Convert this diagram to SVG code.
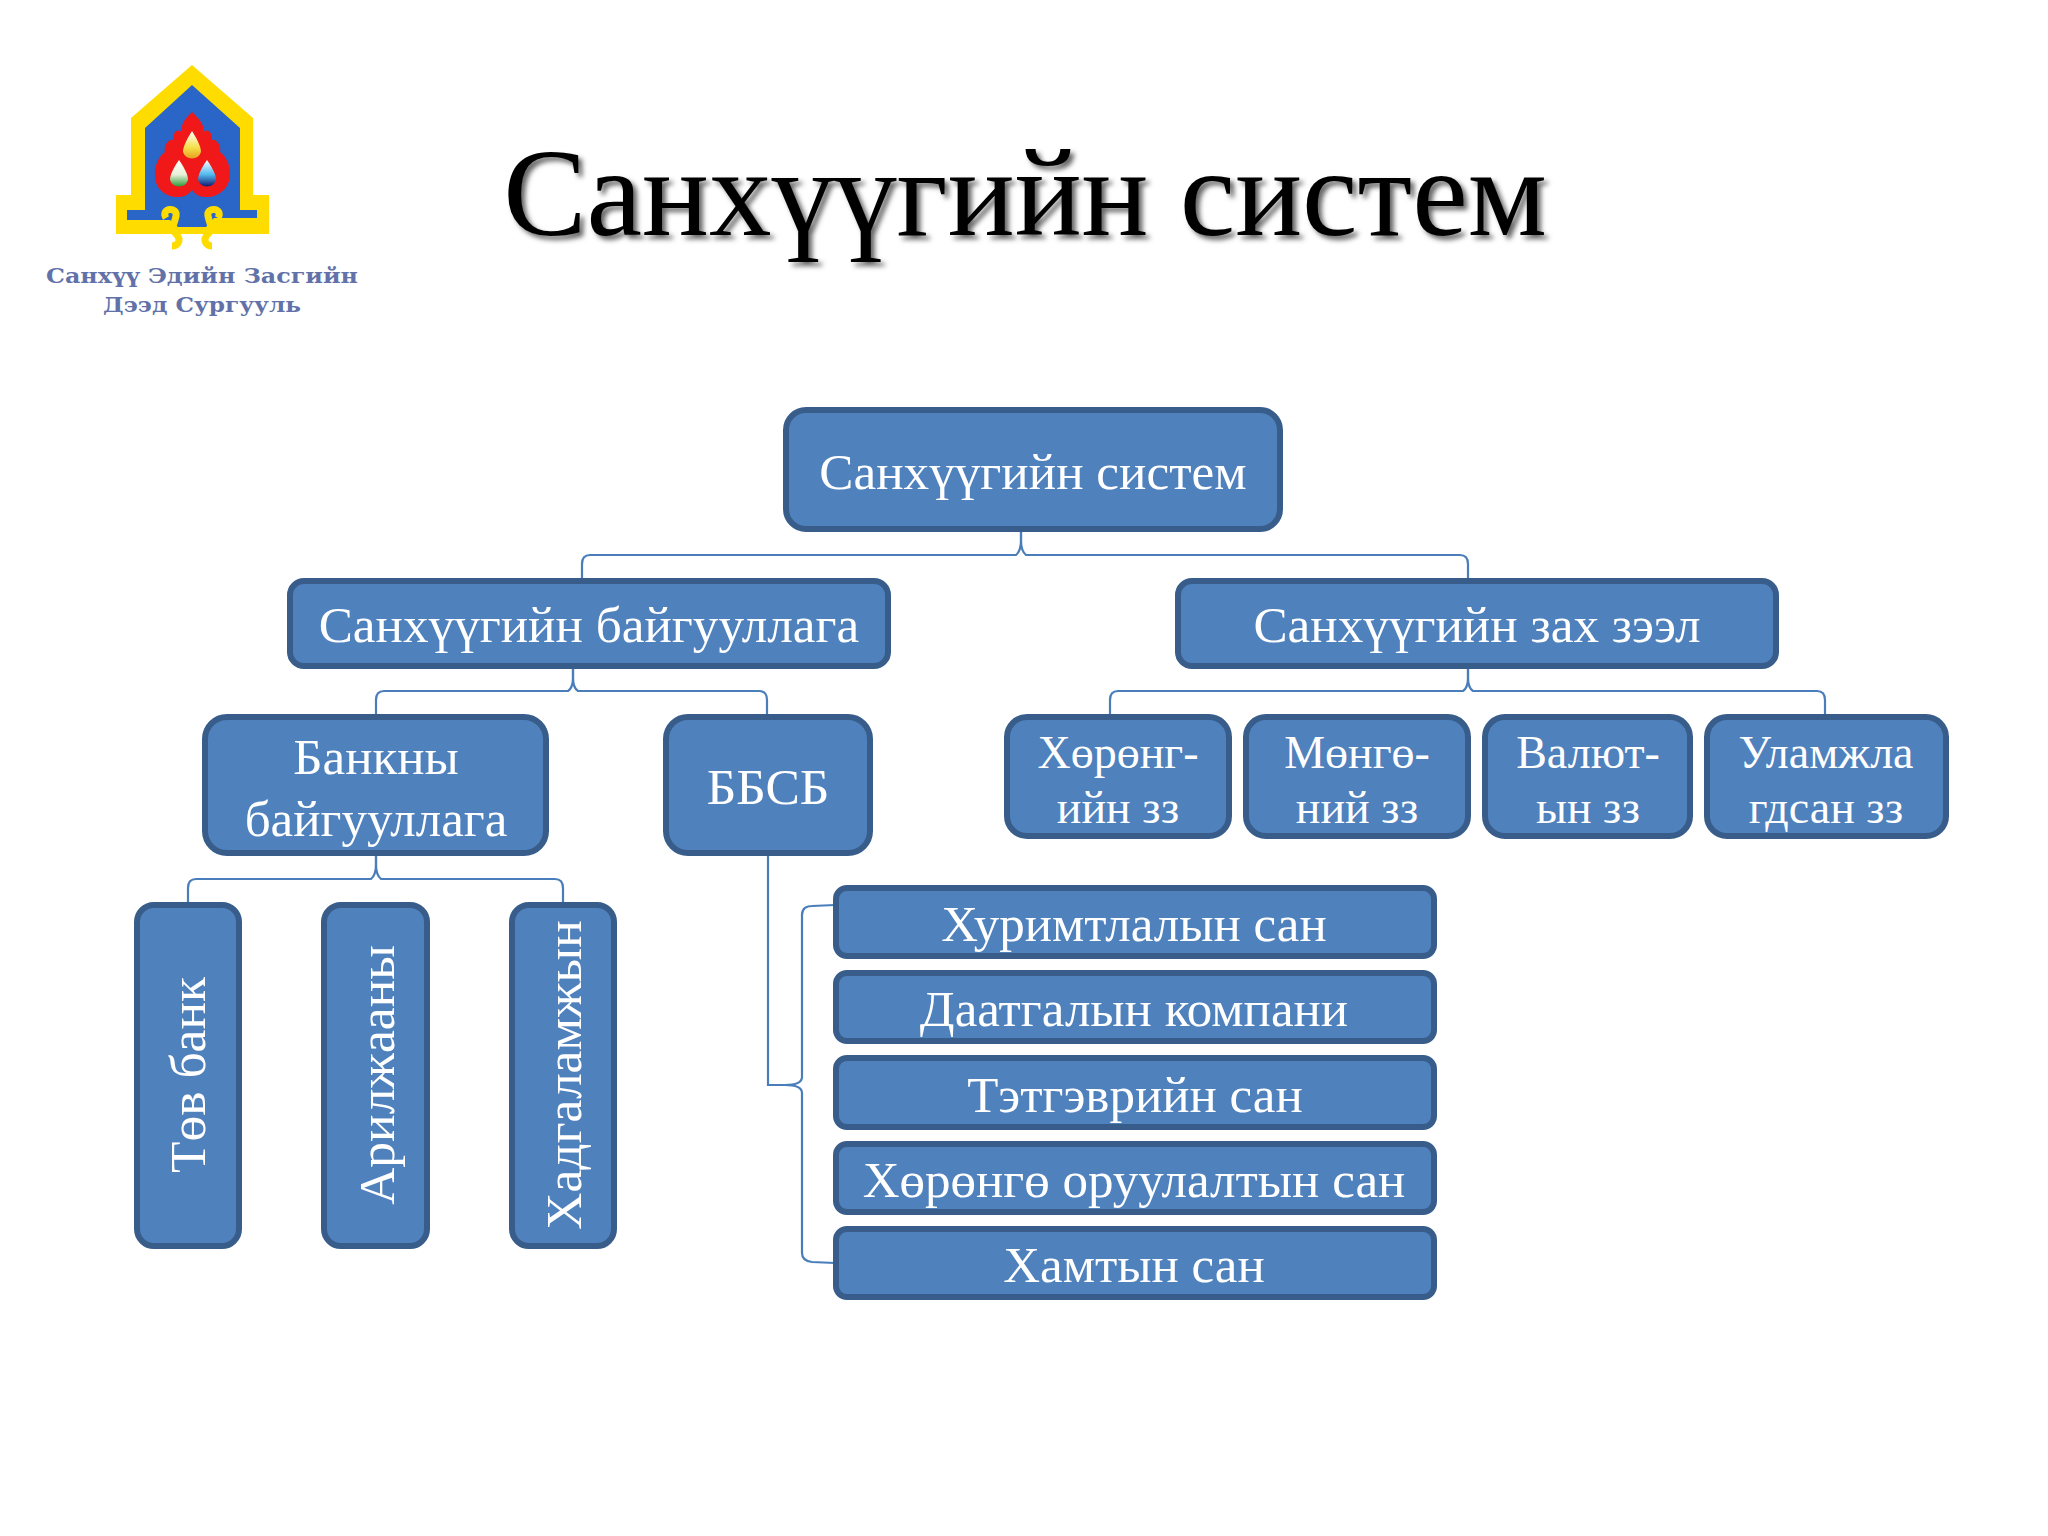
<svg xmlns="http://www.w3.org/2000/svg" width="2048" height="1536" viewBox="0 0 2048 1536">
<style>
.box{fill:#4f81bd;stroke:#385d8a;stroke-width:6}
.t{font-family:"Liberation Serif","Times New Roman",serif;fill:#fff;text-anchor:middle}
.c{fill:none;stroke:#4a7ebb;stroke-width:2.2}
.logo{font-family:"DejaVu Serif","Liberation Serif",serif;font-weight:bold;fill:#6272a8;font-size:21px}
</style>
<defs>
<linearGradient id="d1" x1="0" y1="0" x2="0" y2="1"><stop offset="0" stop-color="#fff"/><stop offset=".6" stop-color="#f5e04a"/><stop offset="1" stop-color="#e8a020"/></linearGradient>
<linearGradient id="d2" x1="0" y1="0" x2="0" y2="1"><stop offset="0" stop-color="#fff"/><stop offset=".55" stop-color="#e8f0d8"/><stop offset="1" stop-color="#2f9a3a"/></linearGradient>
<linearGradient id="d3" x1="0" y1="0" x2="0" y2="1"><stop offset="0" stop-color="#fff"/><stop offset=".55" stop-color="#52b8ee"/><stop offset="1" stop-color="#12186e"/></linearGradient>
<filter id="sh" x="-5%" y="-5%" width="110%" height="120%"><feGaussianBlur stdDeviation="2.500"/></filter>
</defs>
<rect width="2048" height="1536" fill="#fff"/>
<g id="logo">
<path d="M192 65L131 118V195H116V234H269V195H253V118Z" fill="#fedc00"/>
<path d="M192 85L145 128V210H127V220H170L178 227H206L214 218H257V210H240V128Z" fill="#2a66c8"/>
<path d="M192 112C198 118 205 124 203 132C208 128 212 132 212 140C216 138 222 146 220 152C226 156 231 166 230 176C229 190 216 198 205 197C199 197 195 194 192 190C189 194 185 197 179 197C168 198 155 190 155 176C154 166 159 156 165 152C163 146 169 138 173 140C173 132 177 128 182 132C180 124 186 118 192 112Z" fill="#f01818"/>
<path d="M192 131C185 142 183 148 183 152A9.500 9.500 0 0 0 201 152C201 148 199 142 192 131Z" fill="url(#d1)"/>
<path d="M179 160C172 170 170 176 170 180A9.500 9.500 0 0 0 188 180C188 176 186 170 179 160Z" fill="url(#d2)"/>
<path d="M207 160C200 170 198 176 198 180A9.500 9.500 0 0 0 216 180C216 176 214 170 207 160Z" fill="url(#d3)"/>
<path d="M166 218C160 208 178 206 176 216C174 226 170 228 176 234C182 240 178 246 172 246" fill="none" stroke="#fedc00" stroke-width="7"/>
<path d="M218 218C224 208 206 206 208 216C210 226 214 228 208 234C202 240 206 246 212 246" fill="none" stroke="#fedc00" stroke-width="7"/>
<text class="logo" x="46" y="283" textLength="312" lengthAdjust="spacingAndGlyphs">Санхүү Эдийн Засгийн</text>
<text class="logo" x="103" y="312" textLength="198" lengthAdjust="spacingAndGlyphs">Дээд Сургууль</text>
</g>
<g id="title">
<text x="1029" y="239" font-family="Liberation Serif,serif" font-size="125" text-anchor="middle" fill="#666" filter="url(#sh)">Санхүүгийн систем</text>
<text x="1025" y="235" font-family="Liberation Serif,serif" font-size="125" text-anchor="middle" fill="#000">Санхүүгийн систем</text>
</g>
<g id="connectors" class="connectors">
<path class="c" d="M1021 530V540Q1021 551 1016 555H590Q582 555 582 564V580"/>
<path class="c" d="M1021 530V540Q1021 551 1026 555H1460Q1468 555 1468 564V580"/>
<path class="c" d="M573 667V677Q573 688 568 691H384Q376 691 376 700V716"/>
<path class="c" d="M573 667V677Q573 688 578 691H759Q767 691 767 700V716"/>
<path class="c" d="M1468 667V677Q1468 688 1463 691H1118Q1110 691 1110 700V716"/>
<path class="c" d="M1468 667V677Q1468 688 1473 691H1817Q1825 691 1825 700V716"/>
<path class="c" d="M376 854V864Q376 875 371 879H196Q188 879 188 888V904"/>
<path class="c" d="M376 854V864Q376 875 381 879H555Q563 879 563 888V904"/>
<path class="c" d="M768 854V1085H785Q802 1085 802 1077V915Q802 906 812 906L835 905"/>
<path class="c" d="M785 1085Q802 1085 802 1093V1253Q802 1261 812 1262L835 1263"/>
</g>
<g id="n-root"><rect class="box" x="786" y="410" width="494" height="119" rx="20"/><text class="t" x="1033" y="489" font-size="51.200">Санхүүгийн систем</text></g>
<g id="n-org"><rect class="box" x="290" y="581" width="598" height="85" rx="14"/><text class="t" x="589" y="642" font-size="51.200">Санхүүгийн байгууллага</text></g>
<g id="n-market"><rect class="box" x="1178" y="581" width="598" height="85" rx="14"/><text class="t" x="1477" y="642" font-size="51.200">Санхүүгийн зах зээл</text></g>
<g id="n-bank"><rect class="box" x="205" y="717" width="341" height="136" rx="22"/><text class="t" x="376" y="774" font-size="51">Банкны</text><text class="t" x="376" y="836" font-size="51">байгууллага</text></g>
<g id="n-bbsb"><rect class="box" x="666" y="717" width="204" height="136" rx="22"/><text class="t" x="768" y="804" font-size="51.500">ББСБ</text></g>
<g id="n-asset"><rect class="box" x="1007" y="717" width="222" height="119" rx="20"/><text class="t" x="1118" y="768" font-size="46">Хөрөнг-</text><text class="t" x="1118" y="823" font-size="46">ийн зз</text></g>
<g id="n-money"><rect class="box" x="1246" y="717" width="222" height="119" rx="20"/><text class="t" x="1357" y="768" font-size="46">Мөнгө-</text><text class="t" x="1357" y="823" font-size="46">ний зз</text></g>
<g id="n-fx"><rect class="box" x="1485" y="717" width="205" height="119" rx="20"/><text class="t" x="1588" y="768" font-size="46">Валют-</text><text class="t" x="1588" y="823" font-size="46">ын зз</text></g>
<g id="n-deriv"><rect class="box" x="1707" y="717" width="239" height="119" rx="20"/><text class="t" x="1826" y="768" font-size="46">Уламжла</text><text class="t" x="1826" y="823" font-size="46">гдсан зз</text></g>
<g id="n-central"><rect class="box" x="137" y="905" width="102" height="341" rx="17"/><text class="t" transform="translate(205 1075) rotate(-90)" font-size="51.500">Төв банк</text></g>
<g id="n-commercial"><rect class="box" x="324" y="905" width="103" height="341" rx="17"/><text class="t" transform="translate(394 1075) rotate(-90)" font-size="51.500">Арилжааны</text></g>
<g id="n-savings"><rect class="box" x="512" y="905" width="102" height="341" rx="17"/><text class="t" transform="translate(581 1075) rotate(-90)" font-size="51.500">Хадгаламжын</text></g>
<g id="n-l1"><rect class="box" x="836" y="888" width="598" height="68" rx="11"/><text class="t" x="1134" y="941" font-size="51">Хуримтлалын сан</text></g>
<g id="n-l2"><rect class="box" x="836" y="973" width="598" height="68" rx="11"/><text class="t" x="1134" y="1026" font-size="51">Даатгалын компани</text></g>
<g id="n-l3"><rect class="box" x="836" y="1058" width="598" height="69" rx="11"/><text class="t" x="1135" y="1112" font-size="51">Тэтгэврийн сан</text></g>
<g id="n-l4"><rect class="box" x="836" y="1144" width="598" height="68" rx="11"/><text class="t" x="1134" y="1197" font-size="51">Хөрөнгө оруулалтын сан</text></g>
<g id="n-l5"><rect class="box" x="836" y="1229" width="598" height="68" rx="11"/><text class="t" x="1134" y="1282" font-size="51">Хамтын сан</text></g>
</svg>
